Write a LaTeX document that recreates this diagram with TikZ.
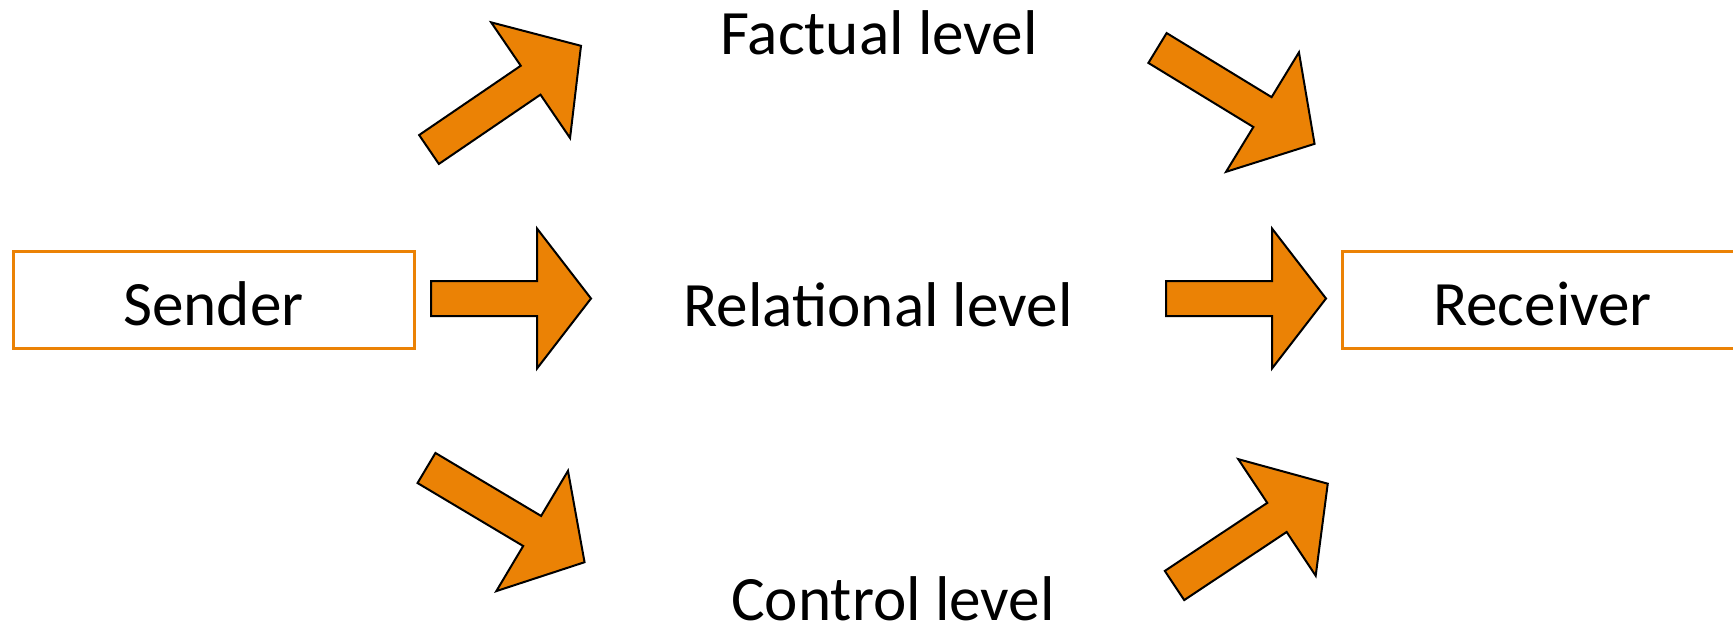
\documentclass[tikz,border=0pt]{standalone}
\usepackage{fontspec}
\setmainfont{Carlito}
\definecolor{boxorange}{RGB}{235,130,5}

\tikzset{
  levelfont/.style={font=\fontsize{31.6}{38}\selectfont},
  party/.style={draw=boxorange, line width=1.5pt, minimum width=200.5pt, minimum height=48.5pt,
    text height=25.5pt, text depth=0pt, levelfont},
  blockarrow/.style={draw=black, fill=boxorange, line width=1pt, line join=miter},
  straightarrow/.pic={
    \draw[blockarrow] (0,-17.5) -- (106,-17.5) -- (106,-70) -- (160,0) -- (106,70) -- (106,17.5) -- (0,17.5) -- cycle;
  },
  slantarrow/.pic={
    \draw[blockarrow] (0,-17.5) -- (123,-17.5) -- (123,-70) -- (184,0) -- (123,70) -- (123,17.5) -- (0,17.5) -- cycle;
  }
}

\begin{document}
\begin{tikzpicture}[x=0.5pt,y=0.5pt]
\useasboundingbox (0,0) rectangle (1733,-626);

% the two parties
\node[party] (sender) at (213.5,-299.5) {Sender};
\node[party] (receiver) at (1542.5,-299.5) {Receiver};

% the three levels
\node[levelfont, anchor=base] (factual) at (879,-55) {Factual level};
\node[levelfont, anchor=base] (relational) at (878,-326) {Relational level};
\node[levelfont, anchor=base] (control) at (893,-620) {Control level};

% arrows from the sender
\pic[rotate=34.3] at (429,-149.5) {slantarrow};
\pic at (431,-298.5) {straightarrow};
\pic[rotate=-30.8] at (426.5,-468) {slantarrow};

% arrows to the receiver
\pic[rotate=-31.4] at (1157.5,-48) {slantarrow};
\pic at (1166,-298.5) {straightarrow};
\pic[rotate=33.6] at (1174.5,-585.5) {slantarrow};

\end{tikzpicture}
\end{document}
